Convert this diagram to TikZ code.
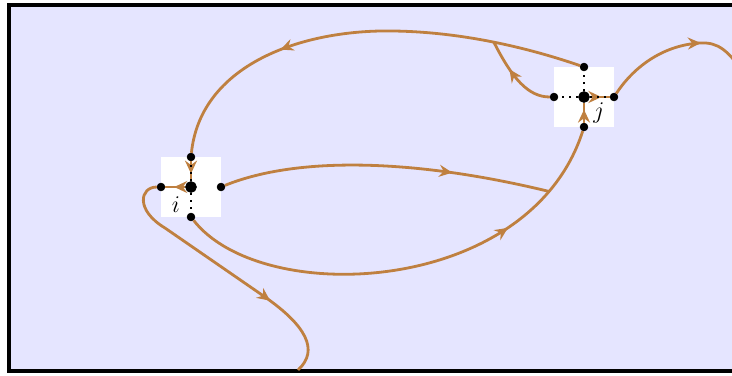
\documentclass[tikz,border=0pt]{standalone}
\usepackage{amsmath}
\usepackage{amssymb}
\usepackage{tikz}
\usetikzlibrary{arrows.meta,decorations.markings}
\tikzset{
	vertex/.style  = {fill=white, minimum size=30pt, inner sep=0pt},
	hub/.style     = {draw, circle, fill=black, minimum size=5.4pt, inner sep=0pt},
	port/.style    = {draw, circle, fill=black, minimum size=3.8pt, inner sep=0pt},
	strand/.style  = {draw=brown, line width=1.4pt},
	leg/.style     = {draw=black, line width=1.1pt, dash pattern=on 1pt off 2.6pt},
	flow/.style    = {postaction={decorate, decoration={markings,
			mark=at position #1 with {\arrow[brown]{Stealth[length=6.5pt,width=6pt,inset=2.2pt]}}}}}
}

\begin{document}
\begin{tikzpicture}[x=0.5pt, y=-0.5pt]
	\useasboundingbox (0,0) rectangle (732,375);
	\draw[line width=2pt, fill=blue!10] (8.7,5) rectangle (780,371);
	\draw
	node at (191,187) [vertex] (vi) {}
	node at (584,97)  [vertex] (vj) {}
	node at (191,187) [hub]  (ih) {}
	node at (191,157) [port] (it) {}
	node at (191,217) [port] (ib) {}
	node at (161,187) [port] (il) {}
	node at (221,187) [port] (ir) {}
	node at (584,97)  [hub]  (jh) {}
	node at (584,67)  [port] (jt) {}
	node at (584,127) [port] (jb) {}
	node at (554,97)  [port] (jl) {}
	node at (614,97)  [port] (jr) {}
	node at (176,205) [font=\large] (li) {$i$}
	node at (599,113) [font=\large] (lj) {$j$}
	;
	\coordinate (down) at (298,370);
	\coordinate (away) at (745,75);
	% loops between the two vertices
	\draw[strand, flow=0.68] (jt) .. controls (520,45) and (450,30) .. (380,31) coordinate[pos=0.45] (ka)
		.. controls (290,33) and (200,70) .. (it);
	\draw[strand, flow=0.62] (jl) .. controls (528,97) and (512,78) .. (ka);
	\draw[strand, flow=0.73] (ib) .. controls (262,308) and (530,296) .. (jb) coordinate[pos=0.86] (kb);
	\draw[strand, flow=0.70] (ir) .. controls (300,155) and (420,160) .. (kb);
	% open ends
	\draw[strand, flow=0.64] (jr) .. controls (635,65) and (665,45) .. (700,43)
		.. controls (718,42) and (728,50) .. (away);
	\draw[strand, flow=0.68] (il) .. controls (140,187) and (135,210) .. (165,228) -- (265,297)
		.. controls (305,325) and (320,350) .. (down);
	% inside the vertices
	\draw[strand, flow=0.62] (it) -- (ih);
	\draw[strand, flow=0.55] (ih) -- (il);
	\draw[strand, flow=0.66] (jb) -- (jh);
	\draw[strand, flow=0.58] (jh) -- (jr);
	\draw[leg] (ih) -- (it);
	\draw[leg] (ih) -- (ib);
	\draw[leg] (jh) -- (jt);
	\draw[leg] (jh) -- (jl);
	\draw[leg] (jh) -- (jr);
\end{tikzpicture}
\end{document}
